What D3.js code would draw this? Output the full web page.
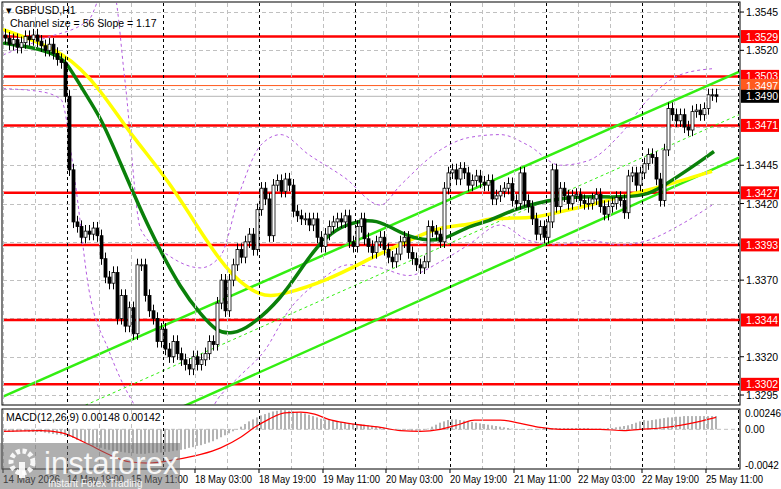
<!DOCTYPE html>
<html><head><meta charset="utf-8">
<script src="https://cdn.jsdelivr.net/npm/d3@7"></script>
<style>body{margin:0;background:#fff}svg{display:block}text{font-family:"Liberation Sans",Arial,sans-serif}</style>
</head><body><svg id="c" width="781" height="489"></svg>
<script>
// ---- data ----
const closes=[1.3528,1.3524,1.3527,1.3522,1.3525,1.3529,1.3527,1.3530,1.3526,1.3523,1.3520,1.3524,1.3518,1.3514,1.3512,
1.3490,1.3442,1.3408,1.3405,1.3398,1.3402,1.3400,1.3404,1.3399,1.3384,1.3372,1.3368,1.3375,
1.3345,1.3360,1.3340,1.3352,1.3335,1.3380,1.3380,1.3360,1.3350,1.3345,1.3330,1.3338,1.3325,1.3320,
1.3330,1.3322,1.3318,1.3315,1.3312,1.3320,1.3315,1.3318,1.3322,1.3330,1.3328,1.3355,1.3370,1.3350,1.3370,1.3380,1.3390,1.3385,
1.3395,1.3400,1.3390,1.3416,1.3430,1.3423,1.3399,1.3432,1.3435,1.3428,1.3436,1.3432,1.3415,1.3412,1.3410,
1.3410,1.3406,1.3410,1.3398,1.3392,1.3400,1.3405,1.3408,1.3410,1.3408,1.3412,1.3395,1.3392,1.3405,1.3410,1.3397,1.3392,1.3388,1.3395,1.3398,
1.3390,1.3385,1.3382,1.3387,1.3395,1.3398,1.3388,1.3384,1.3380,1.3378,1.3382,1.3405,1.3402,1.3400,1.3395,1.3430,1.3440,1.3442,1.3436,1.3443,
1.3440,1.3432,1.3435,1.3438,1.3434,
1.3432,1.3435,1.3423,1.3425,1.3428,1.3430,1.3433,1.3422,1.3420,1.3440,1.3422,1.3418,1.3410,1.3400,1.3405,1.3398,1.3408,1.3442,1.3418,1.3430,
1.3425,1.3420,1.3425,1.3426,1.3422,1.3420,1.3420,1.3423,1.3426,1.3418,1.3413,1.3418,1.3420,1.3424,1.3422,1.3414,1.3438,1.3440,1.3432,1.3440,
1.3446,1.3452,1.3450,1.3436,1.3422,1.3455,1.3482,1.3478,1.3474,1.3478,1.3470,1.3468,1.3480,1.3481,1.3478,1.3482,1.3491,1.3491,1.3490];
const firstOpen=1.3530;
const wick=0.0004;
const maYellow=[[-1,1.3534],[15.5,1.3519],[24,1.3494],[32,1.3463],[40.5,1.3437],[51,1.3393],[57,1.3372],[64,1.3359],[69,1.3360],[81,1.3370],[92,1.3385],[102,1.3397],[109,1.3405],[117,1.3406],[121,1.3411],[132,1.3410],[138,1.3414],[148,1.3420],[158,1.3427],[163,1.3430],[177,1.3441]];
const maGreen=[[-1,1.3525],[7,1.3522],[13,1.3517],[15.5,1.3512],[19.5,1.3494],[24,1.3476],[28,1.3452],[36,1.3403],[44.5,1.3362],[49,1.3348],[53,1.3336],[57,1.3335],[61,1.3339],[69,1.3357],[75.5,1.3383],[79.5,1.3396],[84,1.3405],[89,1.3409],[93,1.3409],[97,1.3404],[102,1.3397],[109.5,1.3395],[115.5,1.3405],[121,1.3408],[127,1.3416],[135.5,1.3422],[144,1.3425],[152,1.3424],[160.5,1.3425],[164.5,1.3431],[171,1.3442],[177.5,1.3454]];
const bandUpper=[[-0.5,1.3517],[9,1.3527],[21,1.3540],[25,1.3560],[27,1.3560],[30,1.3501],[34,1.3403],[41,1.3386],[49,1.3378],[54,1.3386],[59,1.3429],[64,1.3458],[69,1.3465],[76,1.3452],[85,1.3437],[94,1.3419],[99,1.3432],[109,1.3455],[116,1.3463],[124,1.3465],[131,1.3458],[139,1.3445],[146,1.3448],[154,1.3465],[161,1.3488],[169,1.3504],[177,1.3508]];
const bandLower=[[-0.5,1.3495],[9,1.3493],[14,1.3488],[17.5,1.3435],[21,1.3364],[26,1.3324],[31,1.3295],[36,1.3278],[49,1.3278],[54,1.3295],[59,1.3308],[65,1.3324],[71,1.3350],[79,1.3370],[86,1.3380],[94,1.3378],[101,1.3373],[109,1.3382],[116,1.3393],[124,1.3406],[131,1.3396],[139,1.3393],[146,1.3396],[154,1.3393],[161,1.3396],[169,1.3406],[177,1.3419]];
const channelUpper=[[-0.5,1.3294],[183.75,1.3506]];
const channelLower=[[45,1.3288],[183.75,1.3450]];
const levels=[1.3529,1.3503,1.3471,1.3427,1.3393,1.3344,1.3302];
const priceTicks=[1.3545,1.3520,1.3445,1.3420,1.3370,1.3320,1.3295];
const gridPrices=[1.3545,1.3520,1.3495,1.3470,1.3445,1.3420,1.3395,1.3370,1.3345,1.3320,1.3295];
const bidLine=1.3497, lastPrice=1.3490;
const timeLabels=["14 May 2026","14 May 19:00","15 May 11:00","18 May 03:00","18 May 19:00","19 May 11:00","20 May 03:00","20 May 19:00","21 May 11:00","22 May 03:00","22 May 19:00","25 May 11:00"];
const timeLabelBars=[-0.5,15.5,31.5,47.5,63.5,79.5,95.5,111.5,127.5,143.5,159.5,175.5];
const macdHist=[-3,-4,-4,-3,-3,-3,-4,-4,-4,-4,-5,-6,-7,-8,-8,-10,-11,-13,-16,-18,-20,-22,-25,-27,-28,-30,-31,-33,-34,-34,-35,-36,-36,-37,-37,-37,-36,-36,-35,-35,-34,-34,-33,-32,-31,-30,-28,-27,-25,-24,-22,-20,-18,-15,-12,-9,-6,-3,0,4,8,
12,15,18,21,23,25,27,28,29,29,28,27,26,25,24,22,20,18,16,15,14,13,12,11,10,9,8,8,7,7,6,5,4,3,2,1,0,-1,-1,0,-1,-2,-2,-2,-1,1,4,7,10,12,
14,15,15,14,13,12,11,10,9,8,7,6,5,4,3,2,1,0,-1,-1,-1,-1,0,1,2,2,2,2,2,2,2,2,2,2,2,2,1,1,1,1,2,2,3,4,5,6,8,10,12,14,
13,14,15,16,17,18,18,19,19,20,20,20,20,20,20,20,20,20];
const macdSignal=[[-0.5,-3],[9,-2],[14,-5],[21,-23],[26,-38],[31,-49],[36,-51],[42.5,-46],[49,-38],[54,-28],[59,-12],[62.5,3],[66,15],[70,25],[74,26],[77.5,23],[81,15],[86,9],[94,3],[99,-2],[104,-3],[109,0],[114,8],[117.5,14],[124,14],[129,9],[134,3],[139,0],[149,0],[155,-2],[159,0],[164,2],[169,6],[174,12],[178,18]];
const macdTicks=[["0.00246",24.6],["0.00",0],["-0.0042",-42]];

// ---- drawing ----
const svg=d3.select("#c");
const L=3,R=740,T=3,B=405,MT=410,MB=469;
const n=closes.length;
const x=d3.scaleLinear().domain([0,n-1]).range([5,716]);
const y=d3.scaleLinear().domain([1.32885,1.35509]).range([B,T]);
const ym=d3.scaleLinear().domain([-60,29.2]).range([MB,MT]);

svg.append("defs").append("clipPath").attr("id","cp").append("rect").attr("x",L).attr("y",T).attr("width",R-L).attr("height",B-T);
svg.append("defs").append("clipPath").attr("id","cpm").append("rect").attr("x",L).attr("y",MT).attr("width",R-L).attr("height",MB-MT);
const g=svg.append("g").attr("clip-path","url(#cp)");
const gm=svg.append("g").attr("clip-path","url(#cpm)");

const vb=d3.range(-0.5,n+8,8);
vb.forEach((b,k)=>{
  const xx=Math.round(x(b))+0.5, day=((k-2)%3===0);
  [[T,B],[MT,MB]].forEach(([a,c])=>svg.append("line").attr("x1",xx).attr("x2",xx).attr("y1",a).attr("y2",c)
    .attr("stroke",day?"#000":"#c0c0c0").attr("stroke-dasharray",day?"3,3":"4,3").attr("stroke-width",1));
});
gridPrices.forEach(p=>g.append("line").attr("x1",L).attr("x2",R).attr("y1",Math.round(y(p))+0.5).attr("y2",Math.round(y(p))+0.5).attr("stroke","#c0c0c0").attr("stroke-dasharray","4,3"));
gm.append("line").attr("x1",L).attr("x2",R).attr("y1",ym(0)).attr("y2",ym(0)).attr("stroke","#c0c0c0").attr("stroke-dasharray","4,3");

levels.forEach(p=>g.append("line").attr("x1",L).attr("x2",R).attr("y1",y(p)).attr("y2",y(p)).attr("stroke","#ff0000").attr("stroke-width",2.5));
g.append("line").attr("x1",L).attr("x2",R).attr("y1",y(bidLine)).attr("y2",y(bidLine)).attr("stroke","#ff5a1e").attr("stroke-width",1);
g.append("line").attr("x1",L).attr("x2",R).attr("y1",y(lastPrice)).attr("y2",y(lastPrice)).attr("stroke","#b4b4b4").attr("stroke-width",1);

const ln=d3.line().x(d=>x(d[0])).y(d=>y(d[1]));
[bandUpper,bandLower].forEach(a=>g.append("path").attr("d",d3.line().curve(d3.curveMonotoneX).x(d=>x(d[0])).y(d=>y(d[1]))(a)).attr("fill","none").attr("stroke","#b45be0").attr("stroke-dasharray","3,3").attr("stroke-width",1));
const lineAt=(c,i)=>c[0][1]+(c[1][1]-c[0][1])*(i-c[0][0])/(c[1][0]-c[0][0]);
const ext=[-0.5,183.75];
const chanU=ext.map(i=>[i,lineAt(channelUpper,i)]), chanL=[-20,183.75].map(i=>[i,lineAt(channelLower,i)]);
const chanM=ext.map(i=>[i,(lineAt(channelUpper,i)+lineAt(channelLower,i))/2]);
g.append("path").attr("d",ln(chanU)).attr("stroke","#33ee11").attr("stroke-width",2.5).attr("fill","none");
g.append("path").attr("d",ln(chanL)).attr("stroke","#33ee11").attr("stroke-width",2.5).attr("fill","none");
g.append("path").attr("d",ln(chanM)).attr("stroke","#33ee11").attr("stroke-width",1).attr("stroke-dasharray","3,3").attr("fill","none");

const cl=d3.line().curve(d3.curveBasis).x(d=>x(d[0])).y(d=>y(d[1]));
g.append("path").attr("d",cl(maYellow)).attr("stroke","#ffff00").attr("stroke-width",3.5).attr("fill","none");
g.append("path").attr("d",cl(maGreen)).attr("stroke","#0a800a").attr("stroke-width",3.5).attr("fill","none");

const candles=closes.map((c,i)=>{const o=i?closes[i-1]:firstOpen;return {i,o,c,h:Math.max(o,c)+wick,l:Math.min(o,c)-wick};});
const cg=g.selectAll("g.cd").data(candles).join("g");
cg.append("line").attr("x1",d=>Math.round(x(d.i))+0.5).attr("x2",d=>Math.round(x(d.i))+0.5).attr("y1",d=>y(d.h)).attr("y2",d=>y(d.l)).attr("stroke","#000");
cg.append("rect").attr("x",d=>Math.round(x(d.i))-1).attr("width",3).attr("y",d=>y(Math.max(d.o,d.c))).attr("height",d=>Math.max(1,Math.abs(y(d.o)-y(d.c))))
  .attr("fill",d=>d.c>=d.o?"#fff":"#000").attr("stroke","#000").attr("stroke-width",0.8);

gm.selectAll("rect.h").data(macdHist).join("rect").attr("x",(d,i)=>Math.round(x(i))-1).attr("width",2)
  .attr("y",d=>Math.min(ym(d),ym(0))).attr("height",d=>Math.max(0.5,Math.abs(ym(d)-ym(0)))).attr("fill","#b4b4b4");
gm.append("path").attr("d",d3.line().curve(d3.curveMonotoneX).x(d=>x(d[0])).y(d=>ym(d[1]))(macdSignal)).attr("stroke","#ff0000").attr("stroke-width",1.2).attr("fill","none");

svg.append("rect").attr("x",L-1).attr("y",T-1).attr("width",R-L+1).attr("height",B-T+1).attr("fill","none").attr("stroke","#000");
svg.append("rect").attr("x",L-1).attr("y",MT-1).attr("width",R-L+1).attr("height",MB-MT+1).attr("fill","none").attr("stroke","#000");

const fs=10.5;
priceTicks.forEach(p=>{svg.append("line").attr("x1",R).attr("x2",R+4).attr("y1",y(p)).attr("y2",y(p)).attr("stroke","#000");
  svg.append("text").attr("x",746).attr("y",y(p)+4).attr("font-size",fs).text(p.toFixed(4));});
levels.forEach(p=>{svg.append("rect").attr("x",741).attr("y",y(p)-6.5).attr("width",38).attr("height",13).attr("fill","#ff0000");
  svg.append("text").attr("x",746).attr("y",y(p)+4).attr("font-size",fs).attr("fill","#fff").text(p.toFixed(4));});
svg.append("rect").attr("x",741).attr("y",y(bidLine)-6.5).attr("width",38).attr("height",13).attr("fill","#ff5a1e");
svg.append("text").attr("x",746).attr("y",y(bidLine)+4).attr("font-size",fs).attr("fill","#fff").text(bidLine.toFixed(4));
svg.append("rect").attr("x",741).attr("y",y(lastPrice)-6.5).attr("width",38).attr("height",13).attr("fill","#000");
svg.append("text").attr("x",746).attr("y",y(lastPrice)+4).attr("font-size",fs).attr("fill","#fff").text(lastPrice.toFixed(4));
macdTicks.forEach(([t,v])=>svg.append("text").attr("x",745).attr("y",(v<-30?ym(v)+8:ym(v))+4).attr("font-size",10).text(t));

timeLabels.forEach((t,k)=>{const xx=Math.round(x(timeLabelBars[k]));
  svg.append("line").attr("x1",xx).attr("x2",xx).attr("y1",MB).attr("y2",MB+4).attr("stroke","#000");
  svg.append("text").attr("x",Math.max(3,xx)).attr("y",483).attr("font-size",10).attr("textLength",57).attr("lengthAdjust","spacingAndGlyphs").text(t);});

svg.append("text").attr("x",6).attr("y",14).attr("font-size",fs).text("▾ GBPUSD,H1");
svg.append("text").attr("x",10).attr("y",27).attr("font-size",fs).text("Channel size = 56 Slope = 1.17");
svg.append("text").attr("x",6).attr("y",421).attr("font-size",fs).text("MACD(12,26,9) 0.00148 0.00142");

const wm=svg.append("g");
wm.append("rect").attr("x",0).attr("y",443).attr("width",180).attr("height",46).attr("fill","#6e6e6e").attr("opacity",0.55);
wm.append("circle").attr("cx",22).attr("cy",462).attr("r",11).attr("fill","none").attr("stroke","#fff").attr("stroke-width",5).attr("stroke-dasharray","4,2.5").attr("opacity",0.9);
wm.append("rect").attr("x",19).attr("y",462).attr("width",6).attr("height",16).attr("fill","#fff").attr("opacity",0.9);
wm.append("text").attr("x",44).attr("y",474).attr("font-size",31).attr("fill","#fff").attr("opacity",0.9).attr("font-family","Open Sans, sans-serif").text("instaforex");
wm.append("text").attr("x",48).attr("y",487).attr("font-size",10).attr("fill","#fff").attr("opacity",0.9).text("Instant Forex Trading");
</script></body></html>
